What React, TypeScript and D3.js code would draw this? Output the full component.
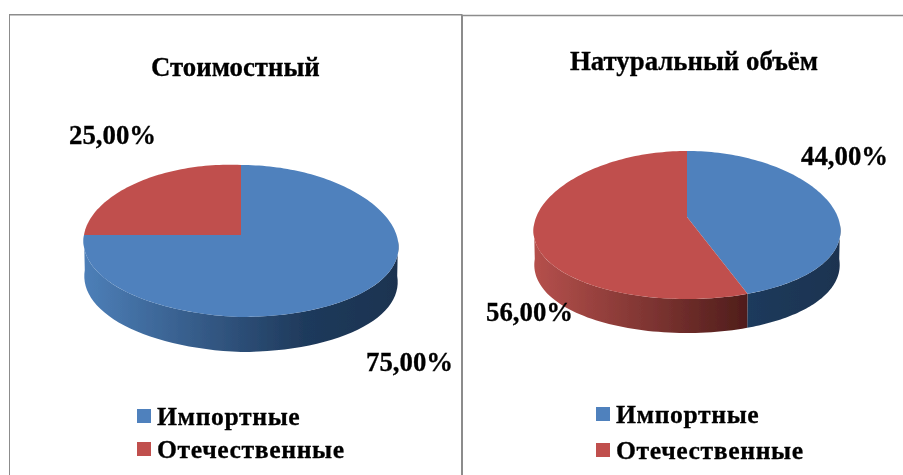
import React from 'react'
import * as d3 from 'd3'

const categories = ['Импортные', 'Отечественные']
const colors = ['#4f81bd', '#c0504d']
const valuesLeft = [75, 25]
const valuesRight = [44, 56]

const serif = '"Liberation Serif", serif'

type PieProps = {
  id: string
  values: number[]
  cx: number
  cy: number
  apexY: number
  rx: number
  ry: number
  depth: number
  tilt: number
}

// rim of the tilted disc: front of the ellipse is a bit wider because of the perspective
function ellipsePoint(a: number, p: PieProps): [number, number] {
  const s = Math.sin(a)
  const c = Math.cos(a)
  return [p.cx + p.rx * s * (1 - 0.08 * c), p.cy - p.ry * c + p.tilt * Math.min(s, 0)]
}

function Pie3D(p: PieProps) {
  const slices = d3.pie<number>().sort(null)(p.values)
  const line = d3.line()
  // side wall is only visible on the front half of the ellipse
  const lo = Math.PI / 2
  const hi = (3 * Math.PI) / 2
  const x0 = p.cx - p.rx
  const x1 = p.cx + p.rx
  return (
    <g>
      <defs>
        {[0, 1].map((i) => (
          <linearGradient key={i} id={`${p.id}-side-${i}`} gradientUnits="userSpaceOnUse" x1={x0} x2={x1} y1={0} y2={0}>
            <stop offset="0" stopColor={i === 0 ? '#4d7fb8' : '#b5504c'} />
            <stop offset="0.7" stopColor={i === 0 ? '#1f3a5c' : '#4f1d1b'} />
            <stop offset="1" stopColor={i === 0 ? '#1c3350' : '#4f1d1b'} />
          </linearGradient>
        ))}
      </defs>
      {slices.map((s, i) => {
        const a0 = Math.max(s.startAngle, lo)
        const a1 = Math.min(s.endAngle, hi)
        if (a1 <= a0) return null
        const top = d3.range(0, 61).map((k) => ellipsePoint(a0 + ((a1 - a0) * k) / 60, p))
        const bottom = top
          .map(([x, y]) => [p.cx + (x - p.cx) * 0.995, y + p.depth] as [number, number])
          .reverse()
        return <path key={i} d={line([...top, ...bottom]) + 'Z'} fill={`url(#${p.id}-side-${i})`} />
      })}
      {slices.map((s, i) => {
        const n = Math.max(2, Math.round((s.endAngle - s.startAngle) * 40))
        const rim = d3.range(0, n + 1).map((k) => ellipsePoint(s.startAngle + ((s.endAngle - s.startAngle) * k) / n, p))
        return <path key={i} d={line([[p.cx, p.apexY], ...rim]) + 'Z'} fill={colors[i]} />
      })}
    </g>
  )
}

function Legend({ x, y, gap }: { x: number; y: number; gap: number }) {
  return (
    <g>
      {categories.map((c, i) => (
        <g key={c} transform={`translate(${x},${y + i * gap})`}>
          <rect x={0} y={0} width={14} height={14} fill={colors[i]} />
          <text x={20} y={16} fontSize={25.7} fontWeight="bold" fontFamily={serif} letterSpacing={0.6} stroke="#000" strokeWidth={0.3} fill="#000">
            {c}
          </text>
        </g>
      ))}
    </g>
  )
}

function Label({ x, y, children }: { x: number; y: number; children: React.ReactNode }) {
  return (
    <text x={x} y={y} fontSize={26.8} fontWeight="bold" fontFamily={serif} stroke="#000" strokeWidth={0.3} fill="#000">
      {children}
    </text>
  )
}

export default function App() {
  const fmt = (v: number) => d3.format('.2f')(v).replace('.', ',') + '%'
  return (
    <svg width={903} height={475} style={{ position: 'absolute', left: 0, top: 0, background: '#fff' }}>
      <defs>
        <filter id="scan" x="0" y="0" width="100%" height="100%">
          <feGaussianBlur stdDeviation="0.45" />
        </filter>
      </defs>
      <g filter="url(#scan)">
        <path d="M9,475V14.5H462" fill="none" stroke="#8c8c8c" strokeWidth={2} />
        <path d="M462,475V14.5" fill="none" stroke="#8c8c8c" strokeWidth={2} />
        <path d="M462,15.5H903" fill="none" stroke="#8c8c8c" strokeWidth={1.5} />

        <Label x={151} y={76}>Стоимостный</Label>
        <Label x={570} y={70}>Натуральный объём</Label>

        <Pie3D id="left" values={valuesLeft} cx={241} cy={241} apexY={235} rx={157} ry={76} depth={35} tilt={6} />
        <Pie3D id="right" values={valuesRight} cx={687} cy={225} apexY={217} rx={153} ry={74} depth={34} tilt={0} />

        <Label x={69} y={144}>{fmt(valuesLeft[1])}</Label>
        <Label x={366} y={371}>{fmt(valuesLeft[0])}</Label>
        <Label x={801} y={165}>{fmt(valuesRight[0])}</Label>
        <Label x={486} y={321}>{fmt(valuesRight[1])}</Label>

        <Legend x={137} y={409} gap={33} />
        <Legend x={596} y={407} gap={36} />
      </g>
    </svg>
  )
}
